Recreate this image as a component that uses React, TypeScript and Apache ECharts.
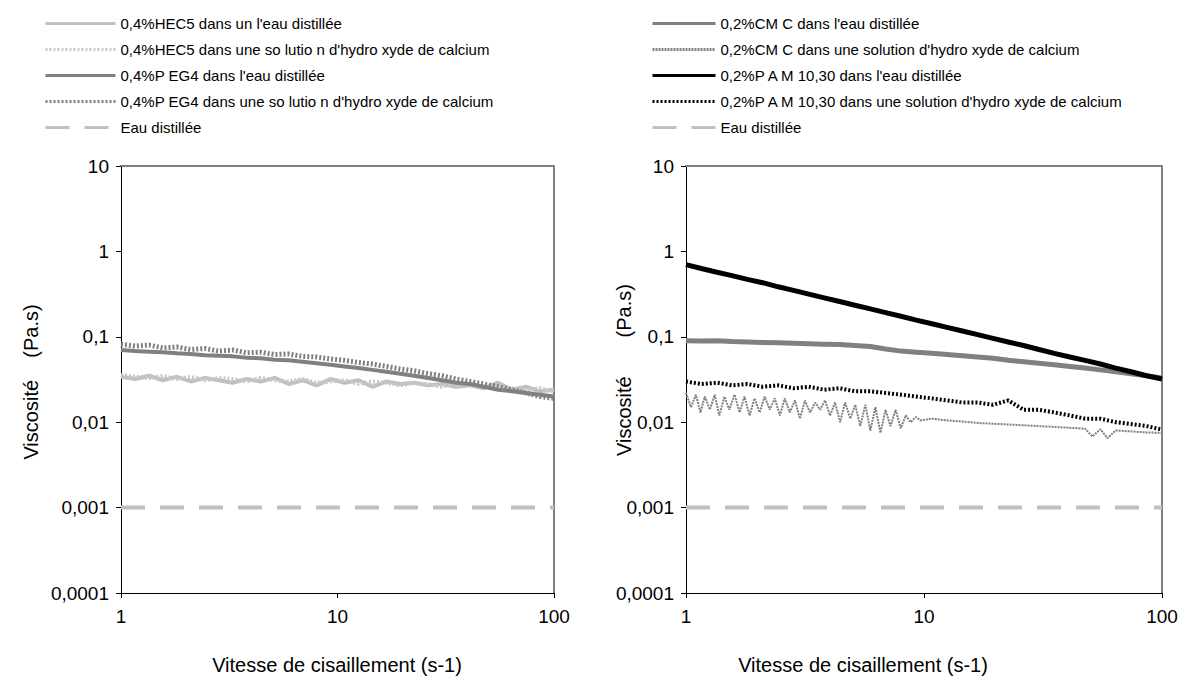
import React, { useEffect, useRef } from "react";
import * as echarts from "echarts";

// Shear rates (s-1)
const SHEAR = [1, 1.16, 1.35, 1.56, 1.81, 2.1, 2.44, 2.83, 3.28, 3.81, 4.42, 5.13, 5.95, 6.9, 8.0, 9.28, 10.8, 12.5, 14.5, 16.8, 19.5, 22.6, 26.2, 30.4, 35.3, 41.0, 47.5, 55.1, 63.9, 74.2, 86.1, 100];

// Left chart
const HEC5_WATER = [0.034, 0.032, 0.035, 0.031, 0.034, 0.030, 0.033, 0.031, 0.029, 0.032, 0.030, 0.033, 0.028, 0.031, 0.027, 0.032, 0.029, 0.031, 0.026, 0.030, 0.028, 0.029, 0.027, 0.028, 0.026, 0.027, 0.025, 0.029, 0.024, 0.026, 0.023, 0.024];
const HEC5_CA = [0.036, 0.034, 0.033, 0.035, 0.032, 0.034, 0.031, 0.033, 0.032, 0.030, 0.033, 0.031, 0.030, 0.032, 0.029, 0.030, 0.031, 0.028, 0.030, 0.029, 0.027, 0.029, 0.028, 0.026, 0.028, 0.027, 0.025, 0.026, 0.025, 0.024, 0.025, 0.023];
const PEG4_WATER = [0.070, 0.068, 0.067, 0.066, 0.064, 0.063, 0.061, 0.060, 0.059, 0.057, 0.056, 0.054, 0.053, 0.051, 0.049, 0.047, 0.045, 0.043, 0.041, 0.039, 0.037, 0.035, 0.033, 0.031, 0.029, 0.028, 0.026, 0.024, 0.023, 0.022, 0.021, 0.020];
const PEG4_CA = [0.082, 0.078, 0.080, 0.074, 0.076, 0.071, 0.073, 0.068, 0.070, 0.065, 0.066, 0.062, 0.063, 0.059, 0.058, 0.055, 0.053, 0.050, 0.048, 0.045, 0.042, 0.040, 0.037, 0.035, 0.032, 0.030, 0.028, 0.026, 0.024, 0.022, 0.020, 0.019];

// Right chart
const CMC_WATER = [0.090, 0.089, 0.090, 0.088, 0.087, 0.086, 0.085, 0.084, 0.083, 0.082, 0.081, 0.079, 0.077, 0.072, 0.068, 0.066, 0.064, 0.062, 0.060, 0.058, 0.056, 0.053, 0.051, 0.049, 0.047, 0.045, 0.043, 0.041, 0.039, 0.037, 0.035, 0.033];
const PAM_WATER = [0.70, 0.63, 0.57, 0.52, 0.47, 0.43, 0.385, 0.35, 0.316, 0.286, 0.259, 0.234, 0.212, 0.192, 0.174, 0.157, 0.142, 0.129, 0.117, 0.106, 0.096, 0.087, 0.079, 0.071, 0.064, 0.058, 0.053, 0.048, 0.043, 0.039, 0.035, 0.032];
const PAM_CA = [0.030, 0.028, 0.029, 0.027, 0.028, 0.026, 0.027, 0.025, 0.026, 0.024, 0.025, 0.023, 0.023, 0.022, 0.021, 0.020, 0.019, 0.018, 0.017, 0.017, 0.016, 0.018, 0.014, 0.014, 0.013, 0.012, 0.011, 0.011, 0.010, 0.0095, 0.009, 0.0082];
// CMC in calcium hydroxide: densely sampled, very noisy at low shear rates
const CMC_CA_POINTS = [
  [1, 0.022], [1.05, 0.015], [1.1, 0.021], [1.15, 0.013], [1.2, 0.020], [1.26, 0.014], [1.32, 0.021], [1.38, 0.012],
  [1.45, 0.020], [1.52, 0.014], [1.6, 0.021], [1.68, 0.013], [1.76, 0.020], [1.85, 0.012], [1.94, 0.019], [2.04, 0.013],
  [2.14, 0.020], [2.25, 0.014], [2.36, 0.019], [2.48, 0.012], [2.6, 0.019], [2.73, 0.013], [2.87, 0.018], [3.01, 0.011],
  [3.16, 0.018], [3.32, 0.013], [3.49, 0.017], [3.66, 0.014], [3.84, 0.018], [4.03, 0.012], [4.23, 0.017], [4.44, 0.010],
  [4.66, 0.017], [4.9, 0.011], [5.14, 0.016], [5.4, 0.009], [5.67, 0.016], [5.95, 0.008], [6.25, 0.015], [6.56, 0.0075],
  [6.89, 0.014], [7.23, 0.009], [7.6, 0.014], [7.98, 0.0085], [8.38, 0.012], [8.8, 0.010], [9.24, 0.0115], [9.7, 0.0105],
  [10.8, 0.011], [12.5, 0.0105], [14.5, 0.0102], [16.8, 0.0098], [19.5, 0.0096], [22.6, 0.0094], [26.2, 0.0092],
  [30.4, 0.009], [35.3, 0.0088], [41.0, 0.0086], [47.5, 0.0084], [51, 0.0068], [55.1, 0.0083], [59, 0.0065],
  [63.9, 0.008], [74.2, 0.0078], [86.1, 0.0076], [100, 0.0075],
];

// Distilled water reference
const WATER_X = [1, 100];
const WATER_Y = [0.001, 0.001];

const Y_TICKS = ["0,0001", "0,001", "0,01", "0,1", "1", "10"];
const X_TICKS = ["1", "10", "100"];

const LEFT_NAMES = [
  "0,4%HEC5 dans un l'eau distillée",
  "0,4%HEC5 dans une so lutio n d'hydro xyde de calcium",
  "0,4%P EG4 dans l'eau distillée",
  "0,4%P EG4 dans une so lutio n d'hydro xyde de calcium",
  "Eau distillée",
];
const RIGHT_NAMES = [
  "0,2%CM C dans l'eau distillée",
  "0,2%CM C dans une solution d'hydro xyde de calcium",
  "0,2%P A M 10,30 dans l'eau distillée",
  "0,2%P A M 10,30 dans une solution d'hydro xyde de calcium",
  "Eau distillée ",
];

const FONT = "'Liberation Sans', Arial, sans-serif";

function pairs(xs: number[], ys: number[]) {
  return xs.map((x, i) => [x, ys[i]]);
}

export default function App() {
  const ref = useRef<HTMLDivElement>(null);
  useEffect(() => {
    if (!ref.current) return;
    const chart = echarts.init(ref.current, undefined, { renderer: "svg" });

    const yLabel = (v: number) => {
      const k = Math.round(Math.log10(v)) + 4;
      return Y_TICKS[k] ?? String(v);
    };
    const xLabel = (v: number) => {
      const k = Math.round(Math.log10(v));
      return X_TICKS[k] ?? String(v);
    };

    const grids = [
      { left: 121, top: 166, width: 433, height: 427 },
      { left: 686, top: 166, width: 476, height: 427 },
    ];

    const xAxes: any[] = [];
    const yAxes: any[] = [];
    [0, 1].forEach((g) => {
      xAxes.push({
        type: "log", logBase: 10, gridIndex: g, min: 1, max: 100, interval: 1, position: "bottom",
        axisLine: { lineStyle: { color: "#000", width: 1 } },
        axisTick: { show: true, length: 5, lineStyle: { color: "#000" } },
        axisLabel: { formatter: xLabel, color: "#000", fontSize: 19, fontFamily: FONT, margin: 14 },
        splitLine: { show: false }, minorTick: { show: false },
      });
      xAxes.push({
        type: "log", logBase: 10, gridIndex: g, min: 1, max: 100, position: "top",
        axisLine: { lineStyle: { color: "#808080", width: 2 } },
        axisTick: { show: false }, axisLabel: { show: false }, splitLine: { show: false },
      });
      yAxes.push({
        type: "log", logBase: 10, gridIndex: g, min: 0.0001, max: 10, interval: 1, position: "left",
        axisLine: { show: true, lineStyle: { color: "#000", width: 1 } },
        axisTick: { show: true, length: 5, lineStyle: { color: "#000" } },
        axisLabel: { formatter: yLabel, color: "#000", fontSize: 19, fontFamily: FONT, margin: 12 },
        splitLine: { show: false }, minorTick: { show: false },
      });
      yAxes.push({
        type: "log", logBase: 10, gridIndex: g, min: 0.0001, max: 10, position: "right",
        axisLine: { show: true, lineStyle: { color: "#808080", width: 2 } },
        axisTick: { show: false }, axisLabel: { show: false }, splitLine: { show: false },
      });
    });

    const mk = (name: string, g: number, data: number[][], color: string, width: number, type: any) => ({
      name,
      type: "line",
      xAxisIndex: g * 2,
      yAxisIndex: g * 2,
      data,
      symbol: "none",
      showSymbol: false,
      lineStyle: { color, width, type },
      itemStyle: { color },
      emphasis: { disabled: true },
    });

    const series = [
      mk(LEFT_NAMES[0], 0, pairs(SHEAR, HEC5_WATER), "#c0c0c0", 4, "solid"),
      mk(LEFT_NAMES[1], 0, pairs(SHEAR, HEC5_CA), "#c8c8c8", 4, [2, 2]),
      mk(LEFT_NAMES[2], 0, pairs(SHEAR, PEG4_WATER), "#808080", 4, "solid"),
      mk(LEFT_NAMES[3], 0, pairs(SHEAR, PEG4_CA), "#808080", 5, [2, 2]),
      mk(LEFT_NAMES[4], 0, pairs(WATER_X, WATER_Y), "#c0c0c0", 4, [24, 15]),
      mk(RIGHT_NAMES[0], 1, pairs(SHEAR, CMC_WATER), "#808080", 5, "solid"),
      mk(RIGHT_NAMES[1], 1, CMC_CA_POINTS, "#808080", 2, [2, 1]),
      mk(RIGHT_NAMES[2], 1, pairs(SHEAR, PAM_WATER), "#000000", 5, "solid"),
      mk(RIGHT_NAMES[3], 1, pairs(SHEAR, PAM_CA), "#000000", 4, [2, 2]),
      mk(RIGHT_NAMES[4], 1, pairs(WATER_X, WATER_Y), "#c0c0c0", 4, [24, 15]),
    ];

    const legendBase = {
      orient: "vertical",
      top: 16,
      padding: 0,
      itemHeight: 14,
      itemGap: 11,
      selectedMode: false,
      itemStyle: { opacity: 0 },
      lineStyle: { width: 3 },
      textStyle: { fontSize: 15, fontFamily: FONT, color: "#000" },
    };

    const textTitle = (x: number, y: number, text: string, rot: number) => ({
      type: "text",
      x, y, rotation: rot,
      style: { text, align: "center", verticalAlign: "middle", fontSize: 20, fontFamily: FONT, fill: "#000" },
    });

    chart.setOption({
      animation: false,
      backgroundColor: "#ffffff",
      grid: grids,
      xAxis: xAxes,
      yAxis: yAxes,
      legend: [
        { ...legendBase, left: 44, itemWidth: 70, data: LEFT_NAMES },
        { ...legendBase, left: 651, itemWidth: 63, data: RIGHT_NAMES },
      ],
      series,
      graphic: [
        textTitle(31, 382, "Viscosité    (Pa.s)", Math.PI / 2),
        textTitle(624, 370, "Viscosité       (Pa.s)", Math.PI / 2),
        textTitle(337, 665, "Vitesse de cisaillement (s-1)", 0),
        textTitle(863, 665, "Vitesse de cisaillement (s-1)", 0),
      ],
    });
    return () => chart.dispose();
  }, []);

  return (
    <div
      ref={ref}
      style={{ position: "fixed", left: 0, top: 0, width: 1181, height: 677, background: "#fff" }}
    />
  );
}
